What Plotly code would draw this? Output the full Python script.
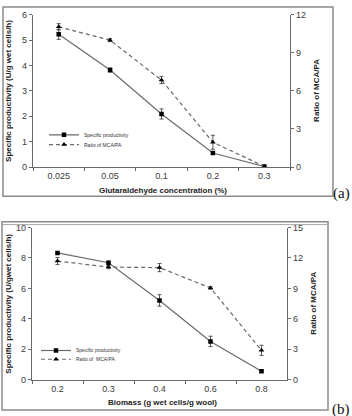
import plotly.graph_objects as go

# ---- Panel (a) data ----
cats_a = ["0.025", "0.05", "0.1", "0.2", "0.3"]
sp_a = [5.23, 3.82, 2.09, 0.55, 0.02]
sp_a_err = [0.2, 0.08, 0.2, 0.05, 0.0]
ratio_a = [11.05, 10.0, 6.85, 1.95, 0.05]
ratio_a_err = [0.25, 0.12, 0.28, 0.55, 0.0]

# ---- Panel (b) data ----
cats_b = ["0.2", "0.3", "0.4", "0.6", "0.8"]
sp_b = [8.33, 7.69, 5.21, 2.52, 0.56]
sp_b_err = [0.08, 0.1, 0.38, 0.34, 0.08]
ratio_b = [11.7, 11.1, 11.05, 9.05, 2.9]
ratio_b_err = [0.35, 0.15, 0.4, 0.12, 0.5]

W, H = 352, 416
LINE = "#6a6a6a"
TXT = "#333333"
FONT = "Liberation Sans, Arial, sans-serif"

def px(x):
    return x / W

def py(y):
    return 1 - y / H

fig = go.Figure()

def add_pair(xa, ya_l, ya_r, cats, sp, sp_err, ratio, ratio_err, lg1, lg2, rname):
    fig.add_trace(go.Scatter(
        x=cats, y=sp, xaxis=xa, yaxis=ya_l, mode="lines+markers",
        name="Specific productivity", legend=lg1,
        line=dict(color=LINE, width=1.2),
        marker=dict(symbol="square", size=4.5, color="black"),
        error_y=dict(type="data", array=sp_err, color="#333", thickness=0.8, width=2),
    ))
    fig.add_trace(go.Scatter(
        x=cats, y=ratio, xaxis=xa, yaxis=ya_r, mode="lines+markers",
        name=rname, legend=lg2,
        line=dict(color=LINE, width=1.2, dash="4px,3px"),
        marker=dict(symbol="triangle-up", size=5, color="black"),
        error_y=dict(type="data", array=ratio_err, color="#333", thickness=0.8, width=2),
    ))

add_pair("x", "y", "y2", cats_a, sp_a, sp_a_err, ratio_a, ratio_a_err,
         "legend", "legend2", "Ratio of MCA/PA")
add_pair("x2", "y3", "y4", cats_b, sp_b, sp_b_err, ratio_b, ratio_b_err,
         "legend3", "legend4", "Ratio of  MCA/PA")

tickfont = dict(family=FONT, size=9, color="#3a3a3a")

def xax(domain, anchor):
    return dict(domain=domain, anchor=anchor, type="category", range=[-0.5, 4.5],
                showline=True, linecolor=LINE, linewidth=1.2, ticks="outside",
                tickson="boundaries", ticklen=3, tickcolor=LINE, tickfont=tickfont,
                showgrid=False, zeroline=False, fixedrange=True)

def yax(domain, anchor, rng, dtick, side="left", overlay=None):
    d = dict(domain=domain, anchor=anchor, range=rng, dtick=dtick, side=side,
             showline=True, linecolor=LINE, linewidth=1.2, ticks="outside",
             ticklen=3, tickcolor=LINE, tickfont=tickfont, showgrid=False,
             zeroline=False, fixedrange=True)
    if overlay:
        d["overlaying"] = overlay
    return d

dom_xa = [px(33), px(290)]
dom_ya = [py(166), py(10)]
dom_xb = [px(32), px(287)]
dom_yb = [py(384), py(228)]

legfont = dict(family=FONT, size=5, color=TXT)

def leg(x, y):
    return dict(x=px(x), y=py(y), xanchor="left", yanchor="middle",
                bgcolor="rgba(0,0,0,0)", font=legfont, itemwidth=30,
                borderwidth=0, tracegroupgap=0)

fig.update_layout(
    width=W, height=H, margin=dict(l=0, r=0, t=0, b=0),
    paper_bgcolor="white", plot_bgcolor="white",
    font=dict(family=FONT, color=TXT),
    xaxis=xax(dom_xa, "y"),
    yaxis=yax(dom_ya, "x", [0, 6], 1),
    yaxis2=yax(dom_ya, "x", [0, 12], 3, side="right", overlay="y"),
    xaxis2=xax(dom_xb, "y3"),
    yaxis3=yax(dom_yb, "x2", [0, 10], 2),
    yaxis4=yax(dom_yb, "x2", [0, 15], 3, side="right", overlay="y3"),
    legend=leg(44, 133),
    legend2=leg(44, 143),
    legend3=leg(36, 354),
    legend4=leg(36, 363),
    showlegend=True,
)

titlefont = dict(family=FONT, size=8, color="#222")
ann = [
    dict(text="<b>Specific productivity (U/g wet cells/h)</b>", x=px(9), y=py(88), textangle=-90),
    dict(text="<b>Ratio of MCA/PA</b>", x=px(317), y=py(88), textangle=-90),
    dict(text="<b>Glutaraldehyde concentration (%)</b>", x=px(163), y=py(190)),
    dict(text="<b>Specific productivity (U/gwet cells/h)</b>", x=px(9), y=py(306), textangle=-90),
    dict(text="<b>Ratio of MCA/PA</b>", x=px(314), y=py(306), textangle=-90),
    dict(text="<b>Biomass (g wet cells/g wool)</b>", x=px(162), y=py(407)),
]
for a in ann:
    a.update(xref="paper", yref="paper", showarrow=False, font=titlefont,
             xanchor="center", yanchor="middle")
    fig.add_annotation(**a)

serif = dict(family="Liberation Serif, Times New Roman, serif", size=15, color="#111")
fig.add_annotation(text="(a)", x=px(341), y=py(193), xref="paper", yref="paper",
                   showarrow=False, font=serif, xanchor="center", yanchor="middle")
fig.add_annotation(text="(b)", x=px(341), y=py(414), xref="paper", yref="paper",
                   showarrow=False, font=serif, xanchor="center", yanchor="middle")

# panel frames
BOX = "#8a8a8a"
fig.add_shape(type="rect", xref="paper", yref="paper", x0=px(3), x1=px(333),
              y0=py(196), y1=py(2), line=dict(color=BOX, width=1.5))
fig.add_shape(type="rect", xref="paper", yref="paper", x0=px(2), x1=px(328),
              y0=py(415), y1=py(222), line=dict(color=BOX, width=1.5))
fig.add_shape(type="line", xref="paper", yref="paper", x0=px(2), x1=px(328),
              y0=py(225), y1=py(225), line=dict(color="#aaaaaa", width=1))

fig.write_html("out.html")
